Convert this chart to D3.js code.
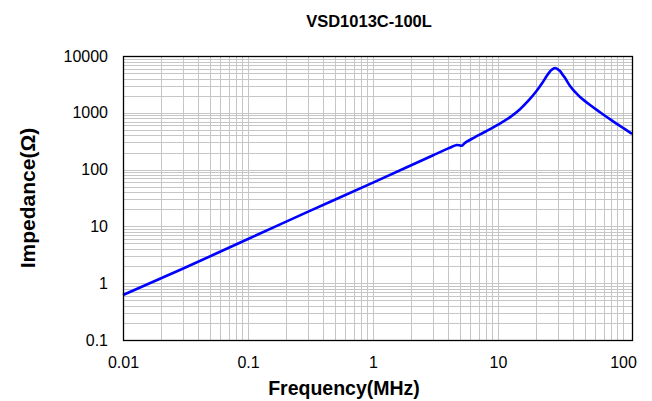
<!DOCTYPE html>
<html><head><meta charset="utf-8">
<script src="https://cdn.jsdelivr.net/npm/d3@7"></script>
<style>body{margin:0;background:#fff}svg{display:block}text{font-family:"Liberation Sans",Arial,sans-serif}</style>
</head><body><div id="chart"></div>
<script>
const title = "VSD1013C-100L";
const xLabel = "Frequency(MHz)";
const yLabel = "Impedance(Ω)";
const xTicks = [0.01, 0.1, 1, 10, 100];
const yTicks = [0.1, 1, 10, 100, 1000, 10000];
const freqMHz = [0.01, 0.03, 0.1, 0.3, 1, 2, 3, 4, 4.68, 4.9, 5.13, 5.35, 5.62, 6.5, 8, 10, 12.5, 15, 17.5, 20.4, 22.5, 24.5, 26, 26.9, 27.8, 28.6, 29.5, 30.3, 31.3, 33, 34.4, 37.7, 41.3, 45.3, 54.5, 65.5, 80.2, 100, 118];
const impedance = [0.62, 1.8, 6.0, 18, 59, 118, 177, 236, 271, 268, 263, 285, 310, 370, 470, 620, 840, 1156, 1630, 2440, 3300, 4440, 5300, 5700, 6000, 6150, 6000, 5750, 5445, 4630, 4100, 2965, 2325, 1900, 1372, 1025, 750, 542, 427];

const W = 652, H = 401;
const m = {left: 123, right: 20, top: 56, bottom: 61};
const svg = d3.select("#chart").append("svg").attr("width", W).attr("height", H);
const x = d3.scaleLog().domain([0.01, 118]).range([m.left, W - m.right]);
const y = d3.scaleLog().domain([0.1, 10000]).range([H - m.bottom, m.top]);

const minorX = [], minorY = [];
for (let d = 0.01; d < 200; d *= 10) for (let k = 1; k < 10; k++) { const v = d * k; if (v >= 0.01 && v <= 118) minorX.push(v); }
for (let d = 0.1; d < 20000; d *= 10) for (let k = 1; k < 10; k++) { const v = d * k; if (v >= 0.1 && v <= 10000) minorY.push(v); }

const g = svg.append("g");
g.selectAll(".vx").data(minorX).join("line")
  .attr("x1", d => Math.round(x(d)) + 0.5).attr("x2", d => Math.round(x(d)) + 0.5)
  .attr("y1", m.top).attr("y2", H - m.bottom).attr("stroke", "#c6c6c6").attr("stroke-width", 1);
g.selectAll(".hy").data(minorY).join("line")
  .attr("y1", d => Math.round(y(d)) + 0.5).attr("y2", d => Math.round(y(d)) + 0.5)
  .attr("x1", m.left).attr("x2", W - m.right).attr("stroke", "#c6c6c6").attr("stroke-width", 1);

const line = d3.line().x((d, i) => x(freqMHz[i])).y(d => y(d)).curve(d3.curveCatmullRom.alpha(0.5));
svg.append("path").datum(impedance).attr("d", line).attr("fill", "none")
  .attr("stroke", "#0000ff").attr("stroke-width", 2.6).attr("stroke-linejoin", "round");

svg.append("rect").attr("x", m.left + 0.5).attr("y", m.top + 0.5)
  .attr("width", W - m.right - m.left).attr("height", H - m.bottom - m.top)
  .attr("fill", "none").attr("stroke", "#000").attr("stroke-width", 1.3);

const xAxis = svg.append("g").attr("transform", `translate(0,${H - m.bottom})`)
  .call(d3.axisBottom(x).tickValues(xTicks).tickSize(0).tickPadding(17).tickFormat(d => String(d)));
xAxis.select(".domain").remove();
xAxis.selectAll("text").attr("font-size", 16).attr("fill", "#000").attr("font-family", "Liberation Sans, Arial, sans-serif");

const yAxis = svg.append("g").attr("transform", `translate(${m.left},0)`)
  .call(d3.axisLeft(y).tickValues(yTicks).tickSize(0).tickPadding(15).tickFormat(d => String(d)));
yAxis.select(".domain").remove();
yAxis.selectAll("text").attr("font-size", 16).attr("fill", "#000").attr("font-family", "Liberation Sans, Arial, sans-serif");

svg.append("text").attr("x", 369).attr("y", 27).attr("text-anchor", "middle")
  .attr("font-size", 16.5).attr("font-weight", "bold").text(title);
svg.append("text").attr("x", 344).attr("y", 395).attr("text-anchor", "middle")
  .attr("font-size", 19.5).attr("font-weight", "bold").text(xLabel);
svg.append("text").attr("transform", "translate(34.5,198) rotate(-90)").attr("text-anchor", "middle")
  .attr("font-size", 21).attr("font-weight", "bold").text(yLabel);
</script></body></html>
